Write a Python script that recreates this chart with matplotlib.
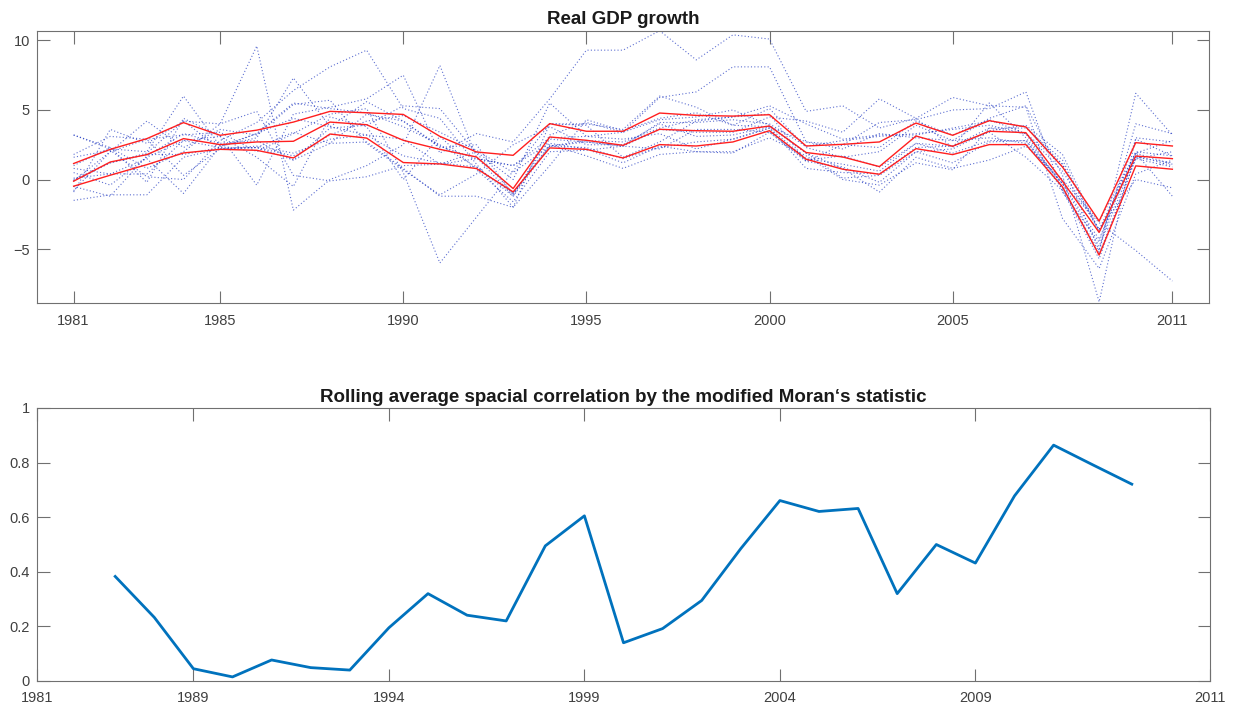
import matplotlib
matplotlib.use('Agg')
from matplotlib import pyplot as plt

years = list(range(1981, 2012))

# country GDP growth paths (blue dotted)
countries = [
    [3.2, 2.3, -0.2, 4.4, 3.1, -0.4, 4.7, 5.2, 5.8, 7.5, 1.9, 3.3, 2.7, 5.8, 9.3, 9.3, 10.7, 8.6, 10.4, 10.1, 4.9, 5.3, 3.7, 4.4, 5.9, 5.3, 5.2, -2.8, -6.4, 0.4, 1.4],
    [1.0, 2.3, 0.8, 2.0, 4.0, 9.6, -2.2, 0.0, 1.0, 2.5, 8.2, 1.6, -1.2, 3.2, 4.1, 3.4, 5.9, 6.3, 8.1, 8.1, 2.7, 2.5, 4.1, 4.3, 5.0, 5.1, 6.3, -0.9, -4.5, 2.9, 1.7],
    [1.8, 3.1, 2.9, 3.2, 3.4, 2.0, 3.3, 4.7, 5.1, 0.5, -6.0, -2.7, 0.6, 4.0, 4.0, 3.6, 6.0, 5.2, 3.9, 5.1, 2.3, 1.6, 2.0, 3.9, 2.8, 4.4, 5.3, 0.3, -8.8, 3.0, 2.7],
    [0.0, 1.2, 1.9, 4.2, 2.2, 2.3, 3.4, 2.6, 2.7, 0.8, -1.2, -1.2, -2.0, 4.0, 3.9, 1.6, 2.7, 4.2, 4.5, 4.7, 1.3, 2.5, 2.3, 4.2, 3.2, 4.3, 3.3, -0.6, -5.2, 6.2, 3.2],
    [0.1, 0.4, 0.4, 2.8, 3.1, 1.6, -0.5, 4.5, 3.8, 0.0, 3.1, 0.7, -1.6, 2.0, 2.1, 2.4, 3.6, 3.4, 3.4, 4.5, 4.2, 3.4, 5.8, 4.4, 2.3, 5.5, 3.0, -0.3, -3.1, -5.1, -7.3],
    [-1.5, -1.1, -1.1, 1.6, 2.2, 2.4, 1.9, 2.9, 3.2, 1.7, 1.2, 0.9, -1.2, 2.4, 2.3, 1.5, 2.3, 2.7, 2.9, 3.7, 1.5, 1.1, 0.6, 2.6, 1.9, 2.8, 2.8, -0.3, -4.8, 1.7, 1.0],
    [3.2, 2.2, 2.0, 6.0, 2.4, 3.0, 7.3, 3.8, 3.2, 2.9, 1.1, 1.5, 1.0, 2.6, 2.2, 1.2, 2.4, 2.0, 1.9, 3.4, 1.3, 0.9, -0.2, 2.0, 1.2, 2.7, 2.8, -0.7, -5.4, 1.5, 2.0],
    [0.8, 0.4, 1.5, -1.0, 2.4, 3.3, 4.4, 3.8, 5.6, 4.2, 2.3, 2.5, -1.1, 2.9, 2.7, 2.4, 4.1, 4.1, 4.3, 4.0, 2.4, 2.8, 3.1, 3.3, 3.6, 3.9, 3.3, 0.6, -3.6, 2.0, 1.7],
    [1.6, 2.1, 0.2, 0.0, 2.8, 4.1, 6.4, 8.1, 9.3, 5.1, 4.4, 1.1, -2.0, 1.0, 4.3, 3.5, 4.4, 4.8, 3.9, 3.8, 1.9, 0.8, -0.9, 1.6, 0.8, 1.4, 2.4, 0.0, -3.0, 1.9, -1.2],
    [-0.1, 1.2, 1.8, 1.8, 2.3, 3.3, 5.5, 5.1, 4.8, 3.8, 2.5, 0.9, -1.0, 2.4, 2.8, 2.7, 3.7, 4.3, 4.5, 5.3, 4.0, 2.9, 3.2, 3.2, 3.7, 4.2, 3.8, 1.1, -3.6, 0.0, -0.6],
    [-0.8, 2.0, 4.2, 2.3, 3.6, 3.2, 5.4, 5.7, 2.6, 0.7, -1.1, 0.4, 2.5, 3.8, 2.5, 2.5, 4.0, 3.1, 3.2, 3.8, 2.7, 2.2, 3.3, 3.0, 2.8, 3.0, 2.6, -0.3, -4.3, 1.9, 1.1],
    [-0.5, -1.2, 1.7, 3.3, 2.6, 2.8, 1.4, 2.6, 4.7, 4.2, 2.4, 1.5, 1.0, 3.0, 3.1, 3.4, 4.3, 4.5, 5.0, 3.9, 1.9, 0.1, 0.3, 2.0, 2.2, 3.5, 3.9, 1.8, -3.7, 1.5, 0.9],
    [0.5, -0.4, 1.6, 2.8, 2.3, 2.3, 1.4, 3.7, 3.9, 5.3, 5.1, 1.9, -1.0, 2.5, 1.7, 0.8, 1.8, 2.0, 2.0, 3.0, 1.7, 0.0, -0.4, 1.2, 0.7, 3.7, 3.3, 1.1, -5.1, 4.0, 3.3],
    [-0.1, 2.0, 2.9, 0.3, 2.2, 2.3, 1.7, 3.2, 4.2, 4.6, 3.4, 2.1, 0.5, 2.4, 2.7, 2.4, 2.2, 3.6, 3.6, 3.4, 1.4, 1.7, 0.9, 2.6, 2.4, 3.7, 3.7, 1.4, -3.8, 1.9, 2.8],
    [-0.9, 3.6, 2.6, 4.2, 4.0, 4.9, 0.3, -0.1, 0.2, 1.0, 1.1, 2.0, 0.0, 5.5, 3.1, 2.9, 3.3, 2.2, 2.9, 3.7, 0.8, 0.5, 0.4, 2.3, 2.4, 3.4, 1.6, -0.8, -5.7, 1.6, 1.2],
]

# red bands
upper = [1.15, 2.17, 2.94, 4.09, 3.18, 3.55, 4.13, 4.9, 4.8, 4.68, 3.1, 1.98, 1.74, 4.02, 3.47, 3.47, 4.78, 4.61, 4.56, 4.66, 2.41, 2.53, 2.7, 4.06, 3.18, 4.23, 3.78, 0.9, -2.99, 2.65, 2.41]
middle = [-0.12, 1.26, 1.79, 2.94, 2.51, 2.7, 2.75, 4.13, 3.94, 2.82, 2.17, 1.62, -0.65, 3.06, 2.82, 2.46, 3.61, 3.51, 3.47, 3.85, 1.94, 1.62, 0.93, 3.13, 2.39, 3.47, 3.37, -0.12, -3.8, 1.69, 1.5]
lower = [-0.48, 0.31, 1.07, 1.91, 2.17, 2.1, 1.55, 3.27, 2.98, 1.22, 1.12, 0.79, -0.89, 2.27, 2.17, 1.55, 2.51, 2.41, 2.7, 3.51, 1.46, 0.74, 0.38, 2.22, 1.79, 2.51, 2.51, -0.53, -5.43, 0.98, 0.74]

top_ticks = [1981, 1985, 1990, 1995, 2000, 2005, 2011]
top_ticklabels = ['1981', '1985', '1990', '1995', '2000', '2005', '2011']

# rolling Moran statistic
moran_years = list(range(1983, 2010))
moran = [0.383, 0.233, 0.045, 0.015, 0.077, 0.049, 0.04, 0.195, 0.32, 0.241, 0.22, 0.495, 0.605,
         0.14, 0.192, 0.295, 0.485, 0.661, 0.621, 0.632, 0.32, 0.5, 0.432, 0.678, 0.864, 0.792, 0.721]
bottom_ticks = [1981, 1985, 1990, 1995, 2000, 2005, 2011]
bottom_ticklabels = ['1981', '1989', '1994', '1999', '2004', '2009', '2011']

plt.rcParams['font.family'] = ['Liberation Sans', 'DejaVu Sans']
edge = '#707070'
txt = '#404040'


def style(ax):
    for s in ax.spines.values():
        s.set_color(edge)
        s.set_linewidth(0.8)
    ax.tick_params(direction='in', length=9, width=0.8, color=edge,
                   labelcolor=txt, labelsize=10.5, top=True, right=True)
    ax.tick_params(axis='x', pad=7.5)
    ax.tick_params(axis='y', pad=5)


fig = plt.figure(figsize=(12.39, 7.15), dpi=100)

ax1 = fig.add_axes([37 / 1239, 1 - 303.3 / 715, 1172 / 1239, 272.6 / 715])
for c in countries:
    ax1.plot(years, c, color=(0.1, 0.2, 0.75), linestyle=(0, (1, 2)), linewidth=0.8, alpha=0.7)
for band in (upper, middle, lower):
    ax1.plot(years, band, color=(1, 0.12, 0.12), linewidth=1.0)
ax1.set_xlim(1980, 2012)
ax1.set_ylim(-8.9, 10.7)
ax1.set_xticks(top_ticks)
ax1.set_xticklabels(top_ticklabels)
ax1.set_yticks([-5, 0, 5, 10])
style(ax1)
ax1.set_title('Real GDP growth', fontsize=13.5, fontweight='bold', color='#1a1a1a', pad=5)

ax2 = fig.add_axes([37 / 1239, 1 - 681 / 715, 1173 / 1239, 273 / 715])
ax2.plot(moran_years, moran, color='#0072BD', linewidth=2)
ax2.set_xlim(1981, 2011)
ax2.set_ylim(0, 1)
ax2.set_xticks(bottom_ticks)
ax2.set_xticklabels(bottom_ticklabels)
ax2.set_yticks([0, 0.2, 0.4, 0.6, 0.8, 1])
ax2.set_yticklabels(['0', '0.2', '0.4', '0.6', '0.8', '1'])
style(ax2)
ax2.set_title('Rolling average spacial correlation by the modified Moran\u2018s statistic',
              fontsize=13.5, fontweight='bold', color='#1a1a1a', pad=4)

fig.savefig('out.png', dpi=100)
